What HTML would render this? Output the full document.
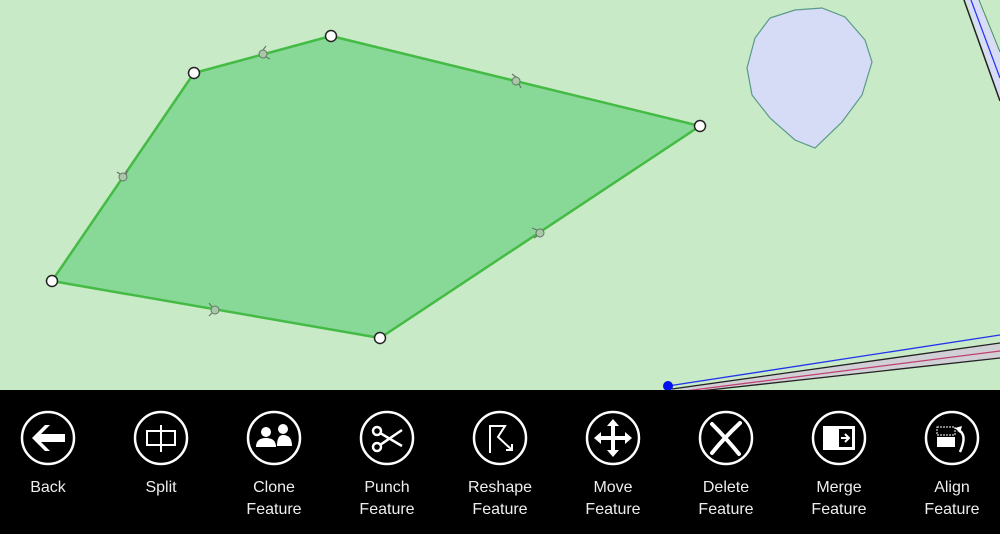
<!DOCTYPE html>
<html><head><meta charset="utf-8"><style>
html,body{margin:0;padding:0;}
body{width:1000px;height:534px;overflow:hidden;background:#c9eac6;font-family:"Segoe UI","Liberation Sans",sans-serif;}
svg{display:block}
</style></head><body>
<svg width="1000" height="534" viewBox="0 0 1000 534" xmlns="http://www.w3.org/2000/svg">
<rect width="1000" height="534" fill="#c9eac6"/>
<polygon points="966,0 978,0 1000,55 1000,100" fill="#d8dcf6"/>
<line x1="964" y1="0" x2="1000" y2="101" stroke="#222" stroke-width="1.5"/>
<line x1="971" y1="0" x2="1000" y2="78" stroke="#2233ee" stroke-width="1.2"/>
<line x1="979" y1="0" x2="1000" y2="52" stroke="#4a8a6a" stroke-width="1"/>
<path d="M770,18 L795,10 L822,8 L845,17 L865,40 L872,62 L862,95 L842,122 L815,148 L795,140 L770,118 L752,95 L747,68 L755,38 Z" fill="#d6dcf6" stroke="#5a9a8a" stroke-width="1.2"/>
<polygon points="672,389 1000,343 1000,358 700,391" fill="#d0d0d6"/>
<line x1="668" y1="386" x2="1000" y2="335" stroke="#2233ee" stroke-width="1.3"/>
<line x1="672" y1="389" x2="1000" y2="343" stroke="#222" stroke-width="1.3"/>
<line x1="685" y1="391" x2="1000" y2="351" stroke="#c04070" stroke-width="1.3"/>
<line x1="700" y1="391" x2="1000" y2="358" stroke="#222" stroke-width="1.3"/>
<circle cx="668" cy="386" r="5" fill="#0010ee"/>
<polygon points="52,281 194,73 331,36 700,126 380,338" fill="#88d898" stroke="#44bb44" stroke-width="2.5" stroke-linejoin="round"/>
<g fill="#a8c8a8" stroke="#667766" stroke-width="1">
<circle cx="263" cy="54" r="4"/><circle cx="516" cy="81" r="4"/><circle cx="123" cy="177" r="4"/>
<circle cx="540" cy="233" r="4"/><circle cx="215" cy="310" r="4"/>
</g>
<g stroke="#667766" stroke-width="1.2">
<line x1="263" y1="50" x2="266" y2="46"/><line x1="266" y1="57" x2="270" y2="59"/>
<line x1="516" y1="77" x2="512" y2="74"/><line x1="519" y1="84" x2="521" y2="88"/>
<line x1="120" y1="174" x2="117" y2="172"/><line x1="126" y1="175" x2="127" y2="170"/>
<line x1="537" y1="230" x2="532" y2="228"/><line x1="537" y1="236" x2="534" y2="238"/>
<line x1="212" y1="307" x2="209" y2="303"/><line x1="212" y1="313" x2="209" y2="316"/>
</g>
<g fill="#fff" stroke="#222" stroke-width="1.5">
<circle cx="52" cy="281" r="5.5"/><circle cx="194" cy="73" r="5.5"/><circle cx="331" cy="36" r="5.5"/>
<circle cx="700" cy="126" r="5.5"/><circle cx="380" cy="338" r="5.5"/>
</g>
<rect x="0" y="390" width="1000" height="144" fill="#000"/>
<g fill="none" stroke="#fff" stroke-width="2.5">
<circle cx="48" cy="438" r="26"/><circle cx="161" cy="438" r="26"/><circle cx="274" cy="438" r="26"/>
<circle cx="387" cy="438" r="26"/><circle cx="500" cy="438" r="26"/><circle cx="613" cy="438" r="26"/>
<circle cx="726" cy="438" r="26"/><circle cx="839" cy="438" r="26"/><circle cx="952" cy="438" r="26"/>
</g>
<path d="M32,438 L45,425 L50,425 L41,434 L65,434 L65,442 L41,442 L50,451 L45,451 Z" fill="#fff"/>
<g fill="none" stroke="#fff" stroke-width="2"><rect x="147" y="431" width="28" height="14"/><line x1="161" y1="425" x2="161" y2="452"/></g>
<g fill="#fff"><circle cx="266" cy="432" r="5"/><path d="M256,447 q0,-9 10,-9 q10,0 10,9 z"/><circle cx="283" cy="429" r="5"/><path d="M277,446 q0,-11 6,-11 q9,0 9,11 z"/></g>
<g fill="none" stroke="#fff" stroke-width="2.5"><circle cx="377" cy="431" r="4"/><circle cx="377" cy="447" r="4"/><line x1="380" y1="433" x2="402" y2="446"/><line x1="380" y1="445" x2="402" y2="430"/></g>
<g fill="none" stroke="#fff" stroke-width="2"><path d="M490,453 L490,426 L505,426 L498,437 L512,450"/><path d="M506,450 L512,450 L512,444"/></g>
<g fill="#fff"><rect x="599" y="436" width="28" height="4"/><rect x="611" y="424" width="4" height="28"/>
<polygon points="613,419 607,426 619,426"/><polygon points="613,457 607,450 619,450"/><polygon points="594,438 601,432 601,444"/><polygon points="632,438 625,432 625,444"/></g>
<g fill="none" stroke="#fff" stroke-width="4" stroke-linecap="round"><path d="M712,424 Q726,438 739,454"/><path d="M740,423 Q724,438 712,453"/></g>
<g><rect x="823" y="426" width="32" height="24" fill="#fff"/><rect x="839" y="429" width="13" height="18" fill="#000"/><path d="M841,438 h7 M845,434 l4,4 l-4,4" stroke="#fff" stroke-width="2" fill="none"/></g>
<g><rect x="937" y="437" width="18" height="10" fill="#fff"/><rect x="937" y="427" width="18" height="8" fill="none" stroke="#fff" stroke-width="1" stroke-dasharray="2,1"/><path d="M958,430 q10,4 2,22" stroke="#fff" stroke-width="2.5" fill="none"/><polygon points="955,428 962,426 960,433" fill="#fff"/></g>
<g fill="#eee" font-size="16" text-anchor="middle" font-family="Segoe UI, Liberation Sans, sans-serif">
<text x="48" y="492">Back</text>
<text x="161" y="492">Split</text>
<text x="274" y="492">Clone</text><text x="274" y="514">Feature</text>
<text x="387" y="492">Punch</text><text x="387" y="514">Feature</text>
<text x="500" y="492">Reshape</text><text x="500" y="514">Feature</text>
<text x="613" y="492">Move</text><text x="613" y="514">Feature</text>
<text x="726" y="492">Delete</text><text x="726" y="514">Feature</text>
<text x="839" y="492">Merge</text><text x="839" y="514">Feature</text>
<text x="952" y="492">Align</text><text x="952" y="514">Feature</text>
</g>
</svg>
</body></html>
